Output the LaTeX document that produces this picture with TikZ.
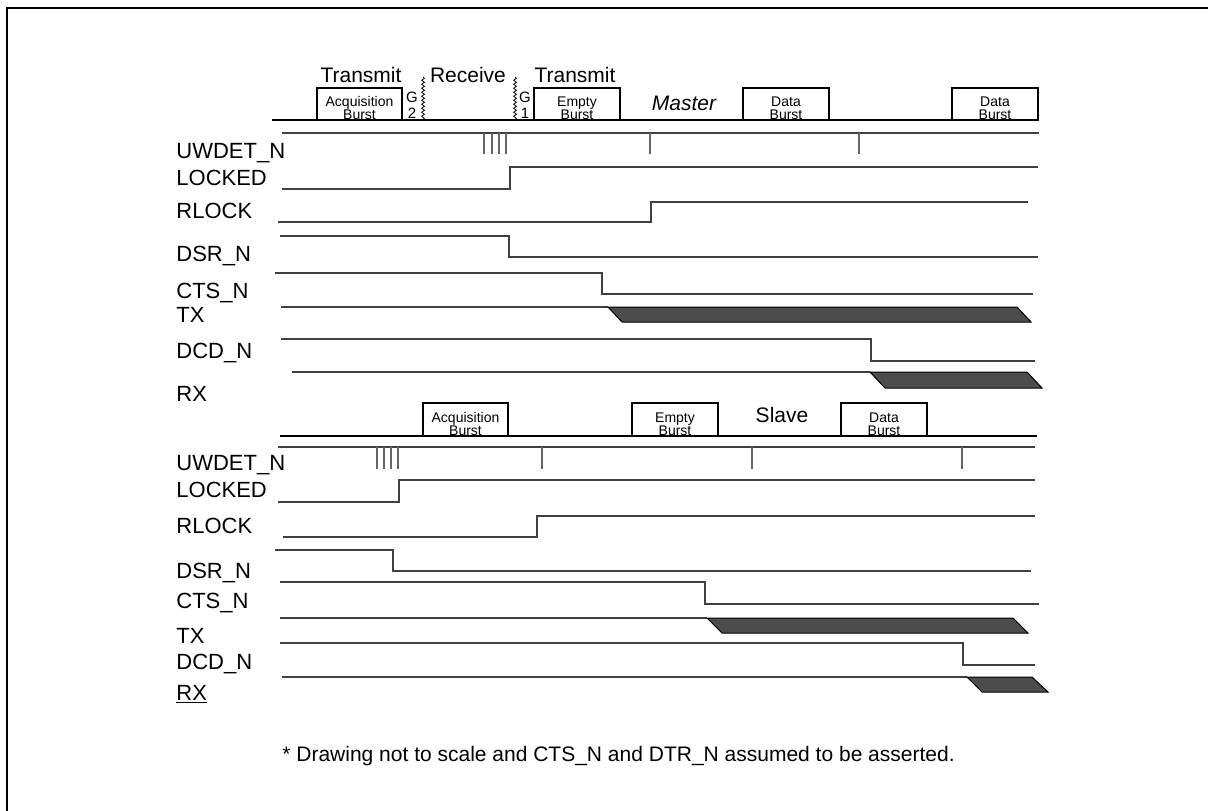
\documentclass[tikz,border=0pt]{standalone}
\usepackage{fontspec}
\setmainfont{Liberation Sans}
\usetikzlibrary{decorations.pathmorphing}
\begin{document}
\begin{tikzpicture}[x=0.5pt,y=-0.5pt,
 lbl/.style={anchor=base west, inner sep=0pt, font=\fontsize{11}{13}\selectfont},
 hdr/.style={anchor=base, inner sep=0pt, font=\fontsize{10.5}{12}\selectfont},
 burst/.style={draw=black, line width=0.6pt},
 btxt/.style={anchor=south, inner sep=0pt, text depth=0pt, align=center, font={\fontsize{7}{6.5}\selectfont\lineskiplimit-20pt}},
 gtxt/.style={anchor=south, inner sep=0pt, text depth=0pt, align=center, font={\fontsize{7.5}{8}\selectfont\lineskiplimit-20pt}},
 hline/.style={draw=black, line width=0.6pt},
 sig/.style={draw=black!75, line width=0.65pt},
 utick/.style={draw=black!60, line width=0.6pt},
 dat/.style={fill=black!70, draw=black, line width=0.5pt},
 gapline/.style={draw=black, line width=0.4pt, decorate, decoration={snake, amplitude=0.7pt, segment length=2pt}},
]
\useasboundingbox (0,0) rectangle (1208,810);
\clip (0,0) rectangle (1208,810);
\draw[line width=1pt] (7,8) rectangle (1260,860);

% ---------------- Master header ----------------
\node[hdr] (tx1) at (361,82) {Transmit};
\node[hdr] (rcv) at (468,82) {Receive};
\node[hdr] (tx2) at (575,82) {Transmit};
\node[hdr, font=\fontsize{10.5}{12}\selectfont\itshape] (mst) at (684,110) {Master};
\draw[hline] (272,120) -- (1038,120);
\draw[burst] (317,120) rectangle (402,88);
\node[btxt] (ab1) at (359.5,120) {Acquisition\\Burst};
\node[gtxt] (g2) at (412,119) {G\\2};
\draw[gapline] (423,77) -- (423,120);
\draw[gapline] (515,77) -- (515,120);
\node[gtxt] (g1) at (525,119) {G\\1};
\draw[burst] (534,120) rectangle (620,88);
\node[btxt] (eb1) at (577,120) {Empty\\Burst};
\draw[burst] (743,120) rectangle (829,88);
\node[btxt] (db1) at (786,120) {Data\\Burst};
\draw[burst] (952,120) rectangle (1038,88);
\node[btxt] (db2) at (995,120) {Data\\Burst};

% ---------------- Master signals ----------------
\node[lbl] (muw) at (176,158) {UWDET\_N};
\draw[sig] (282,133) -- (1039,133);
\foreach \x in {484,492,499,506,650,859} \draw[utick] (\x,133) -- (\x,154);

\node[lbl] (mlk) at (176,185) {LOCKED};
\draw[sig] (282,189) -- (510,189) -- (510,167) -- (1038,167);

\node[lbl] (mrl) at (176,218) {RLOCK};
\draw[sig] (278,222) -- (651,222) -- (651,202) -- (1028,202);

\node[lbl] (mdsr) at (176,261) {DSR\_N};
\draw[sig] (280,236) -- (509,236) -- (509,257) -- (1038,257);

\node[lbl] (mcts) at (176,298) {CTS\_N};
\draw[sig] (275,273) -- (602,273) -- (602,294) -- (1033,294);

\node[lbl] (mtx) at (176,322) {TX};
\draw[sig] (281,307) -- (608,307);
\filldraw[dat] (608,307) -- (1017,307) -- (1031,322) -- (622,322) -- cycle;

\node[lbl] (mdcd) at (176,358) {DCD\_N};
\draw[sig] (281,339) -- (871,339) -- (871,361) -- (1035,361);

\node[lbl] (mrx) at (176,401) {RX};
\draw[sig] (292,372) -- (870,372);
\filldraw[dat] (870,372) -- (1027,372) -- (1042,388) -- (885,388) -- cycle;

% ---------------- Slave header ----------------
\draw[hline] (280,436) -- (1037,436);
\draw[burst] (423,436) rectangle (508,403);
\node[btxt] (ab2) at (465.5,436) {Acquisition\\Burst};
\draw[burst] (632,436) rectangle (718,403);
\node[btxt] (eb2) at (675,436) {Empty\\Burst};
\node[hdr] (slv) at (782,422) {Slave};
\draw[burst] (841,436) rectangle (927,403);
\node[btxt] (db3) at (884,436) {Data\\Burst};

% ---------------- Slave signals ----------------
\node[lbl] (suw) at (176,470) {UWDET\_N};
\draw[sig] (278,447) -- (1035,447);
\foreach \x in {377,384,391,398,542,752,962} \draw[utick] (\x,447) -- (\x,469);

\node[lbl] (slk) at (176,497) {LOCKED};
\draw[sig] (278,502) -- (399,502) -- (399,480) -- (1035,480);

\node[lbl] (srl) at (176,533) {RLOCK};
\draw[sig] (283,537) -- (537,537) -- (537,516) -- (1035,516);

\node[lbl] (sdsr) at (176,578) {DSR\_N};
\draw[sig] (275,550) -- (393,550) -- (393,571) -- (1031,571);

\node[lbl] (scts) at (176,608) {CTS\_N};
\draw[sig] (280,582) -- (705,582) -- (705,604) -- (1039,604);

\node[lbl] (stx) at (176,643) {TX};
\draw[sig] (280,618) -- (707,618);
\filldraw[dat] (707,618) -- (1013,618) -- (1028,633) -- (722,633) -- cycle;

\node[lbl] (sdcd) at (176,669) {DCD\_N};
\draw[sig] (280,643) -- (963,643) -- (963,665) -- (1035,665);

\node[lbl] (srx) at (176,700) {\underline{RX}};
\draw[sig] (282,677) -- (967,677);
\filldraw[dat] (967,677) -- (1032,677) -- (1048,692) -- (982,692) -- cycle;

% ---------------- Footnote ----------------
\node[anchor=base west, inner sep=0pt, font=\fontsize{10.5}{12}\selectfont] (note) at (282,761) {* Drawing not to scale and CTS\_N and DTR\_N assumed to be asserted.};
\end{tikzpicture}
\end{document}
